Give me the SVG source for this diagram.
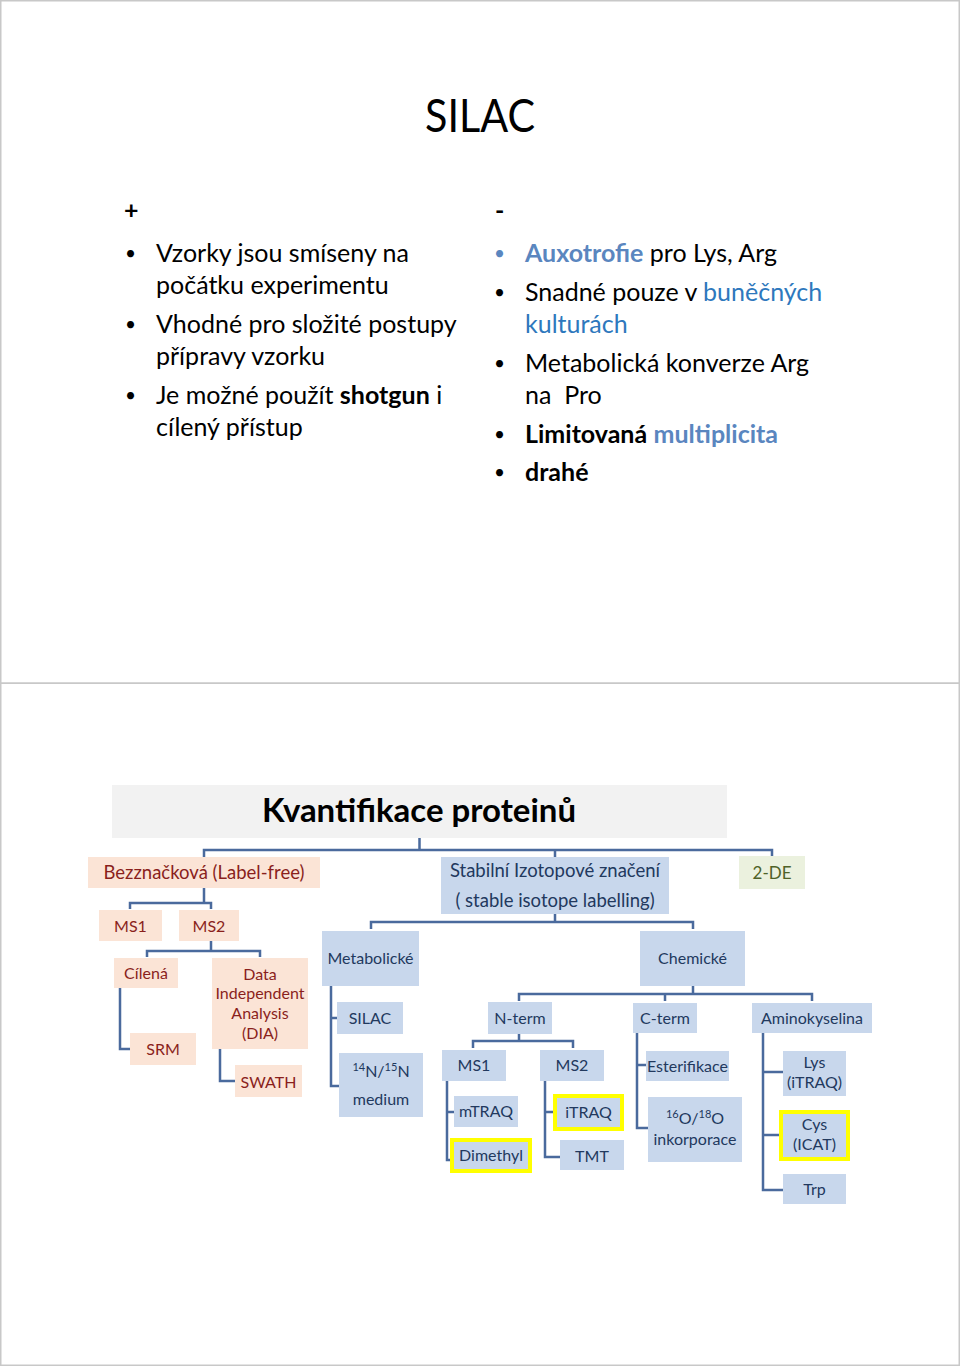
<svg xmlns="http://www.w3.org/2000/svg" width="960" height="1367" viewBox="0 0 960 1367">
<style>
.page{fill:#fff;stroke:#c8c8c8;stroke-width:1.5}
.body{font-family:Lato,"Liberation Sans",sans-serif;font-size:25px;fill:#000}
.bul{font-size:19px}
.b{font-weight:bold}
.blue1{fill:#5a86bf}
.blue2{fill:#2e78bd}
.n{font-family:Lato,"Liberation Sans",sans-serif;font-size:16px;text-anchor:middle}
.big{font-size:18.5px}
.pe rect{fill:#fbe4d6}
.pe text{fill:#8a1f1c}
.bl rect{fill:#c8d7ec}
.bl text{fill:#22395e}
.hl{stroke:#ffff00;stroke-width:4}
.gr rect{fill:#ebf1de}
.gr text{fill:#4f6228}
#connectors path{fill:none;stroke:#4a6a9d;stroke-width:2.5}
</style>
<rect class="page" x="0.75" y="0.75" width="958.5" height="682.5"/>
<rect class="page" x="0.75" y="683.25" width="958.5" height="682"/>

<g id="slide1">
<text x="480" y="132" text-anchor="middle" font-family="Lato,'Liberation Sans',sans-serif" font-size="47" textLength="110" lengthAdjust="spacingAndGlyphs">SILAC</text>
<g class="body">
<text x="124" y="219" class="b">+</text>
<text x="125" y="260" class="bul">•</text>
<text x="156" y="262">Vzorky jsou smíseny na</text>
<text x="156" y="294">počátku experimentu</text>
<text x="125" y="331" class="bul">•</text>
<text x="156" y="333">Vhodné pro složité postupy</text>
<text x="156" y="365">přípravy vzorku</text>
<text x="125" y="402" class="bul">•</text>
<text x="156" y="404">Je možné použít <tspan class="b">shotgun</tspan> i</text>
<text x="156" y="436">cílený přístup</text>

<text x="495" y="219" class="b">-</text>
<text x="494" y="260" class="bul blue1">•</text>
<text x="525" y="262"><tspan class="b blue1">Auxotrofie</tspan> pro Lys, Arg</text>
<text x="494" y="299" class="bul">•</text>
<text x="525" y="301">Snadné pouze v <tspan class="blue2">buněčných</tspan></text>
<text x="525" y="333" class="blue2">kulturách</text>
<text x="494" y="370" class="bul">•</text>
<text x="525" y="372">Metabolická konverze Arg</text>
<text x="525" y="404" xml:space="preserve">na  Pro</text>
<text x="494" y="441" class="bul">•</text>
<text x="525" y="443"><tspan class="b">Limitovaná</tspan> <tspan class="b blue1">multiplicita</tspan></text>
<text x="494" y="479" class="bul">•</text>
<text x="525" y="481" class="b">drahé</text>
</g>
</g>

<g id="connectors">
<path d="M419.5 838V850M204 857V850H772V857M555 850V857"/>
<path d="M204 888V903M130 909V903H211V909"/>
<path d="M211 941V951M147 957V951H260V957"/>
<path d="M120 988V1049H130"/>
<path d="M220 1049V1081H235"/>
<path d="M555 914V922M371 929V922H693V929"/>
<path d="M331 986V1086H339M331 1018H337"/>
<path d="M693 986V994M519 1001V994H812V1001M665 994V1001"/>
<path d="M519 1034V1041M473 1048V1041H573V1048"/>
<path d="M447 1081V1160H452M447 1112H454"/>
<path d="M545 1081V1157H560M545 1112H553"/>
<path d="M637 1033V1128H648M637 1065H646"/>
<path d="M763 1033V1190H783M763 1072H783M763 1135H779"/>
</g>

<g id="title2">
<rect x="112" y="785" width="615" height="53" fill="#f2f2f2"/>
<text x="419" y="822" text-anchor="middle" font-family="Lato,'Liberation Sans',sans-serif" font-size="33" font-weight="bold" textLength="314" lengthAdjust="spacingAndGlyphs">Kvantifikace proteinů</text>
</g>

<g id="labelfree" class="pe n big"><rect x="88" y="857" width="232" height="31"/><text x="204" y="879">Bezznačková (Label-free)</text></g>
<g id="lf-ms1" class="pe n"><rect x="99" y="910" width="63" height="31"/><text x="130.5" y="932">MS1</text></g>
<g id="lf-ms2" class="pe n"><rect x="179" y="910" width="60" height="31"/><text x="209" y="932">MS2</text></g>
<g id="cilena" class="pe n"><rect x="114" y="958" width="64" height="30"/><text x="146" y="979">Cílená</text></g>
<g id="dia" class="pe n"><rect x="212" y="958" width="96" height="91"/><text x="260" y="980">Data</text><text x="260" y="999">Independent</text><text x="260" y="1019">Analysis</text><text x="260" y="1039">(DIA)</text></g>
<g id="srm" class="pe n"><rect x="130" y="1033" width="66" height="32"/><text x="163" y="1055">SRM</text></g>
<g id="swath" class="pe n"><rect x="235" y="1065" width="67" height="32"/><text x="268.5" y="1088">SWATH</text></g>

<g id="stabilni" class="bl n big"><rect x="441" y="857" width="228" height="57"/><text x="555" y="877">Stabilní Izotopové značení</text><text x="555" y="907">( stable isotope labelling)</text></g>
<g id="de2" class="gr n" font-size="17"><rect x="739" y="856" width="66" height="33"/><text x="772" y="879" style="font-size:17px">2-DE</text></g>

<g id="metabolicke" class="bl n"><rect x="322" y="931" width="97" height="55"/><text x="370.5" y="964">Metabolické</text></g>
<g id="silac" class="bl n"><rect x="337" y="1002" width="66" height="32"/><text x="370" y="1024">SILAC</text></g>
<g id="n15" class="bl n"><rect x="339" y="1053" width="84" height="64"/><text x="381" y="1077"><tspan font-size="11" dy="-6">14</tspan><tspan dy="6">N/</tspan><tspan font-size="11" dy="-6">15</tspan><tspan dy="6">N</tspan></text><text x="381" y="1105">medium</text></g>

<g id="chemicke" class="bl n"><rect x="640" y="931" width="105" height="55"/><text x="692.5" y="964">Chemické</text></g>
<g id="nterm" class="bl n"><rect x="488" y="1002" width="64" height="32"/><text x="520" y="1024">N-term</text></g>
<g id="cterm" class="bl n"><rect x="633" y="1003" width="64" height="30"/><text x="665" y="1024">C-term</text></g>
<g id="amino" class="bl n"><rect x="752" y="1003" width="120" height="30"/><text x="812" y="1024">Aminokyselina</text></g>

<g id="nt-ms1" class="bl n"><rect x="442" y="1050" width="64" height="31"/><text x="474" y="1071">MS1</text></g>
<g id="nt-ms2" class="bl n"><rect x="540" y="1050" width="64" height="31"/><text x="572" y="1071">MS2</text></g>
<g id="mtraq" class="bl n"><rect x="454" y="1096" width="64" height="31"/><text x="486" y="1117">mTRAQ</text></g>
<g id="dimethyl" class="bl n"><rect class="hl" x="452" y="1140" width="78" height="31"/><text x="491" y="1161">Dimethyl</text></g>
<g id="itraq" class="bl n"><rect class="hl" x="555" y="1096" width="67" height="33"/><text x="588.5" y="1118">iTRAQ</text></g>
<g id="tmt" class="bl n"><rect x="560" y="1140" width="64" height="30"/><text x="592" y="1162">TMT</text></g>

<g id="ester" class="bl n"><rect x="646" y="1051" width="83" height="30"/><text x="687.5" y="1072">Esterifikace</text></g>
<g id="o18" class="bl n"><rect x="648" y="1097" width="94" height="65"/><text x="695" y="1124"><tspan font-size="11" dy="-6">16</tspan><tspan dy="6">O/</tspan><tspan font-size="11" dy="-6">18</tspan><tspan dy="6">O</tspan></text><text x="695" y="1145">inkorporace</text></g>

<g id="lys" class="bl n"><rect x="783" y="1051" width="63" height="45"/><text x="814.5" y="1068">Lys</text><text x="814.5" y="1088">(iTRAQ)</text></g>
<g id="cys" class="bl n"><rect class="hl" x="781" y="1112" width="67" height="47"/><text x="814.5" y="1130">Cys</text><text x="814.5" y="1150">(ICAT)</text></g>
<g id="trp" class="bl n"><rect x="783" y="1174" width="63" height="30"/><text x="814.5" y="1195">Trp</text></g>
</svg>
